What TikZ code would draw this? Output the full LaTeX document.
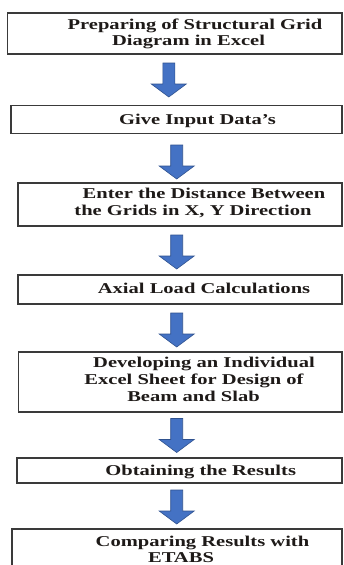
\documentclass[tikz,border=0pt]{standalone}
\usepackage{fontspec}
\setmainfont{Liberation Serif}[FakeStretch=1.37]
\usetikzlibrary{fit}
\definecolor{boxgray}{HTML}{3A3A3A}
\definecolor{txt}{HTML}{1E1A18}
\definecolor{arrowblue}{HTML}{4472C4}
\definecolor{arrowedge}{HTML}{2F528F}
\tikzset{
  box/.style={draw=boxgray, line width=1.8pt, fill=white, inner sep=0pt},
  lbl/.style={font=\fontsize{15}{18}\selectfont\bfseries, text=txt, anchor=base, inner sep=0pt},
  blockarrow/.style={fill=arrowblue, draw=arrowedge, line width=0.6pt, line join=miter},
  downarrow/.pic={\path[blockarrow] (-6,0) -- (6,0) -- (6,21) -- (17.5,21) -- (0,34) -- (-17.5,21) -- (-6,21) -- cycle;}
}
\begin{document}
\begin{tikzpicture}[x=1pt,y=-1pt]
\useasboundingbox (0,0) rectangle (343,565);
\clip (0,0) rectangle (343,565);
\fill[white] (0,0) rectangle (343,565);
% boxes
\node[box, fit={(7.5,13) (342,54)}] (b1) {};
\node[box, fit={(11,105.5) (342,133.5)}] (b2) {};
\node[box, fit={(18,183) (342,226)}] (b3) {};
\node[box, fit={(18,275) (342,304)}] (b4) {};
\node[box, fit={(18.5,352) (342,412)}] (b5) {};
\node[box, fit={(17,458) (342,483)}] (b6) {};
\node[box, fit={(12,529) (342,590)}] (b7) {};
% texts
\node[lbl] (t1a) at (195,29) {Preparing of Structural Grid};
\node[lbl] (t1b) at (188.5,45) {Diagram in Excel};
\node[lbl] (t2) at (197.5,124) {Give Input Data’s};
\node[lbl] (t3a) at (204,198.5) {Enter the Distance Between};
\node[lbl] (t3b) at (193,215.5) {the Grids in X, Y Direction};
\node[lbl] (t4) at (204,293) {Axial Load Calculations};
\node[lbl] (t5a) at (204,367) {Developing an Individual};
\node[lbl] (t5b) at (194,384) {Excel Sheet for Design of};
\node[lbl] (t5c) at (193.5,401.5) {Beam and Slab};
\node[lbl] (t6) at (200.7,475) {Obtaining the Results};
\node[lbl] (t7a) at (202.5,546) {Comparing Results with};
\node[lbl] (t7b) at (181,562.5) {ETABS};
% arrows
\coordinate (a1) at (168.8,63);
\coordinate (a2) at (176.7,145);
\coordinate (a3) at (176.7,235);
\coordinate (a4) at (176.7,313);
\coordinate (a5) at (176.7,418.5);
\coordinate (a6) at (176.7,490);
\foreach \a in {a1,a2,a3,a4,a5,a6} { \pic at (\a) {downarrow}; }
\end{tikzpicture}
\end{document}
